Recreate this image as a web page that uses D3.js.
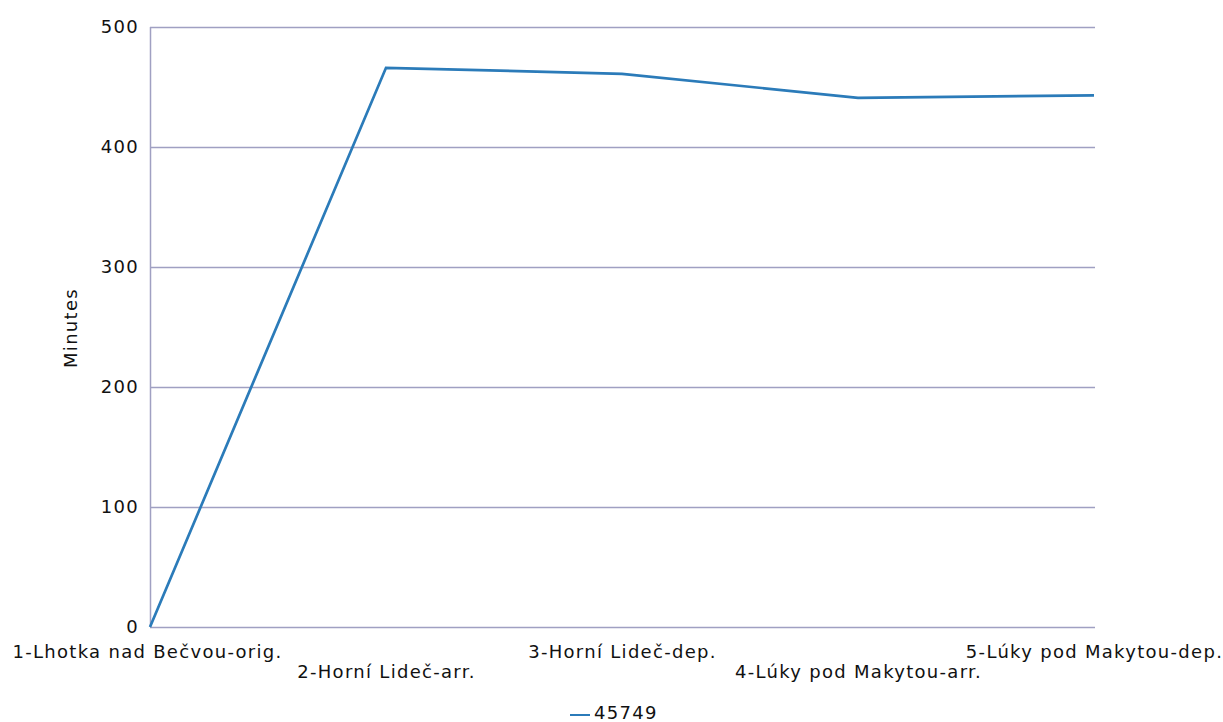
<!DOCTYPE html>
<html><head><meta charset="utf-8">
<script src="https://cdn.jsdelivr.net/npm/d3@7"></script>
<style>body{margin:0;background:#fff}svg{display:block}text{font-family:"DejaVu Sans",sans-serif;fill:#111;letter-spacing:1.3px}</style>
</head><body><svg id="c" width="1223" height="722"></svg>
<script>
const categories = ["1-Lhotka nad Bečvou-orig.","2-Horní Lideč-arr.","3-Horní Lideč-dep.","4-Lúky pod Makytou-arr.","5-Lúky pod Makytou-dep."];
const seriesName = "45749";
const values = [0, 466, 461, 441, 443];
const yTicks = [0,100,200,300,400,500];

(function(){
const svg = d3.select("#c");
const pL=150, pR=1095, pT=27, pB=627;
const x = d3.scalePoint().domain(categories).range([pL, 1094]);
const y = d3.scaleLinear().domain([0,500]).range([pB, pT]);
const grid = "#a0a0c2";

svg.append("g").selectAll("line").data(yTicks).join("line")
  .attr("x1",pL).attr("x2",pR).attr("y1",d=>y(d)+0.5).attr("y2",d=>y(d)+0.5)
  .attr("stroke",grid).attr("stroke-width",1.5);
svg.append("line").attr("x1",pL+0.5).attr("x2",pL+0.5).attr("y1",pT).attr("y2",pB)
  .attr("stroke",grid).attr("stroke-width",1.5);

const yAxis = d3.axisLeft(y).tickValues(yTicks).tickSize(0).tickPadding(11);
const ga = svg.append("g").attr("transform",`translate(${pL},0)`).call(yAxis);
ga.select(".domain").remove();
ga.selectAll("text").attr("font-size",18).attr("font-family","DejaVu Sans").attr("fill","#111");

const xAxis = d3.axisBottom(x).tickSize(0).tickPadding(0);
const gx = svg.append("g").attr("transform",`translate(0,${pB})`).call(xAxis);
gx.select(".domain").remove();
gx.selectAll("text").attr("font-size",18).attr("font-family","DejaVu Sans").attr("fill","#111")
  .attr("dy",null).attr("y",(d,i)=> i%2===0 ? 31 : 51)
  .attr("dx",(d,i)=> i===0 ? -3 : 0);

svg.append("text").attr("transform",`translate(77,328) rotate(-90)`).attr("text-anchor","middle")
  .attr("font-size",18).text("Minutes");

svg.append("path").datum(values)
  .attr("d", d3.line().x((d,i)=>x(categories[i])).y(d=>y(d)))
  .attr("fill","none").attr("stroke","#2b7bb9").attr("stroke-width",2.7);

svg.append("line").attr("x1",570).attr("x2",590).attr("y1",715).attr("y2",715).attr("stroke","#2b7bb9").attr("stroke-width",2);
svg.append("text").attr("x",594).attr("y",719).attr("font-size",18).text(seriesName);
})();
</script></body></html>
